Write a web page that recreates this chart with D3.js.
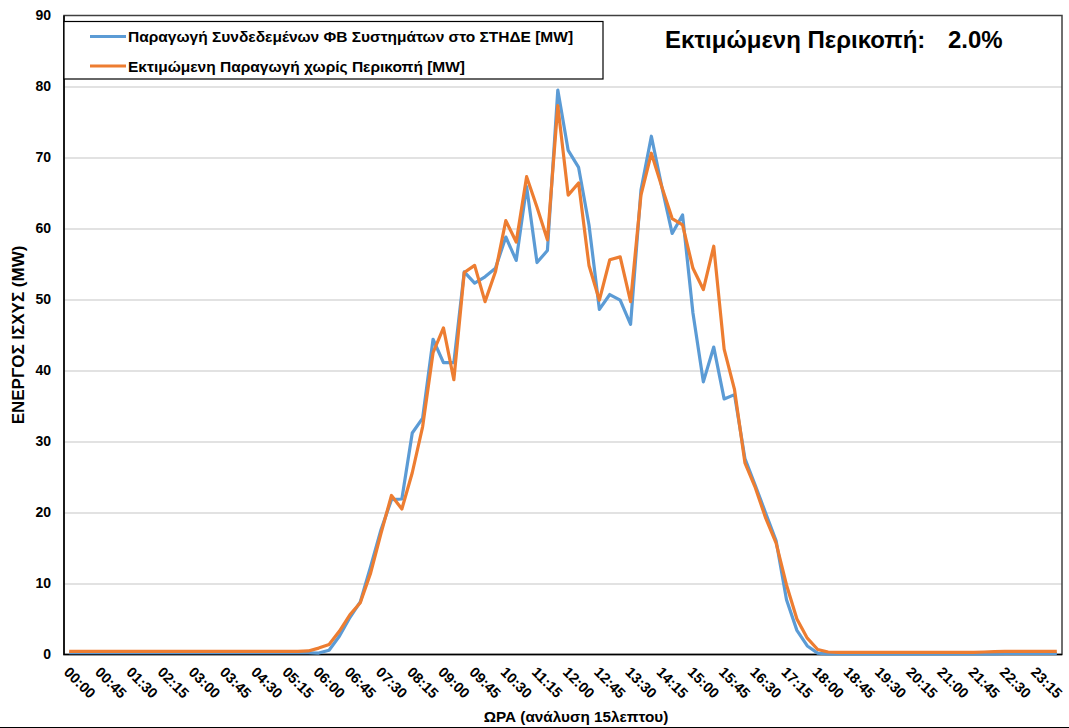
<!DOCTYPE html>
<html>
<head>
<meta charset="utf-8">
<script src="https://cdn.jsdelivr.net/npm/d3@7"></script>
<style>
body { margin: 0; background: #fff; }
svg { display: block; font-family: "Liberation Sans", Arial, sans-serif; }
.axis text { font-weight: bold; fill: #000; }
.axis .domain { display: none; }
.grid line { stroke: #d9d9d9; stroke-width: 1.3; }
.grid .domain { display: none; }
</style>
</head>
<body>
<script>
// x ticks shown every 45 minutes
var tickLabels = ["00:00", "00:45", "01:30", "02:15", "03:00", "03:45", "04:30", "05:15",
    "06:00", "06:45", "07:30", "08:15", "09:00", "09:45", "10:30", "11:15",
    "12:00", "12:45", "13:30", "14:15", "15:00", "15:45", "16:30", "17:15",
    "18:00", "18:45", "19:30", "20:15", "21:00", "21:45", "22:30", "23:15"];

var yTicks = [0, 10, 20, 30, 40, 50, 60, 70, 80, 90];

// ΦΒ production (MW), one value per 15 minutes
var measured = [
    0.25, 0.25, 0.25, 0.25, 0.25, 0.25, 0.25, 0.25, 0.25, 0.25, 0.25, 0.25,
    0.25, 0.25, 0.25, 0.25, 0.25, 0.25, 0.25, 0.25, 0.25, 0.25, 0.25, 0.25,
    0.2, 0.6, 2.6, 5.2, 7.4, 12.4, 17.6, 21.8, 21.9, 31.2, 33.3, 44.4,
    41.1, 41.1, 53.9, 52.3, 53.2, 54.4, 58.8, 55.5, 65.9, 55.2, 56.9, 79.5,
    71.0, 68.6, 60.5, 48.6, 50.7, 49.9, 46.5, 65.4, 73.0, 65.9, 59.3, 61.9,
    48.1, 38.4, 43.3, 36.0, 36.6, 27.6, 23.8, 19.9, 16.0, 7.7, 3.4, 1.2,
    0.2, 0.1, 0.1, 0.1, 0.1, 0.1, 0.1, 0.1, 0.1, 0.1, 0.1, 0.1,
    0.1, 0.1, 0.1, 0.1, 0.1, 0.1, 0.15, 0.15, 0.15, 0.15, 0.15, 0.15
];

var estimated = [
    0.45, 0.45, 0.45, 0.45, 0.45, 0.45, 0.45, 0.45, 0.45, 0.45, 0.45, 0.45,
    0.45, 0.45, 0.45, 0.45, 0.45, 0.45, 0.45, 0.45, 0.45, 0.45, 0.45, 0.5,
    0.9, 1.4, 3.3, 5.6, 7.3, 11.5, 17.1, 22.4, 20.5, 25.6, 32.1, 42.5,
    46.0, 38.7, 53.8, 54.8, 49.7, 53.9, 61.1, 58.1, 67.3, 63.0, 58.4, 77.3,
    64.7, 66.4, 54.8, 49.9, 55.6, 56.0, 49.7, 64.7, 70.6, 65.9, 61.4, 60.5,
    54.4, 51.4, 57.5, 43.0, 37.3, 27.0, 23.5, 19.2, 15.7, 9.8, 5.0, 2.3,
    0.7, 0.35, 0.3, 0.3, 0.3, 0.3, 0.3, 0.3, 0.3, 0.3, 0.3, 0.3,
    0.3, 0.3, 0.3, 0.3, 0.35, 0.4, 0.45, 0.45, 0.45, 0.45, 0.45, 0.45
];

var seriesNames = ["Παραγωγή Συνδεδεμένων ΦΒ Συστημάτων στο ΣΤΗΔΕ [MW]",
    "Εκτιμώμενη Παραγωγή χωρίς Περικοπή [MW]"];
var seriesColors = ["#5b9bd5", "#ed7d31"];
var curtailment = "2.0%";

var margin = {
        top: 15.5,
        bottom: 73.5,
        right: 7,
        left: 64
    },
    W = 1069, H = 728,
    width = W - margin.left - margin.right,
    height = H - margin.top - margin.bottom;

function pad(n) { return (n < 10 ? "0" : "") + n; }
var times = measured.map((d, i) => pad(Math.floor(i / 4)) + ":" + pad((i % 4) * 15));

var x = d3.scalePoint().domain(times).range([0, width]).padding(0.5);
var y = d3.scaleLinear().domain([0, 90]).range([height, 0]);

var svg0 = d3.select("body").append("svg")
    .attr("width", W)
    .attr("height", H);

var svg = svg0.append("g")
    .attr("transform", "translate(" + margin.left + "," + margin.top + ")");

// grid
svg.append("g")
    .attr("class", "grid")
    .call(d3.axisLeft(y).tickValues(yTicks.slice(1, -1)).tickSize(-width).tickFormat(""));

// y axis labels
svg.append("g")
    .attr("class", "axis")
    .call(d3.axisLeft(y).tickValues(yTicks).tickSize(0).tickPadding(13))
    .selectAll("text")
    .style("font-size", "14px");

// x axis labels, rotated
var xa = svg.append("g")
    .attr("class", "axis")
    .attr("transform", "translate(0," + height + ")")
    .call(d3.axisBottom(x).tickValues(tickLabels).tickSize(0));

xa.selectAll("text")
    .style("font-size", "14.5px")
    .attr("text-anchor", "start")
    .attr("y", 0)
    .attr("transform", "translate(-3,15) rotate(45)")
    .attr("dy", "0.35em");

// plot frame
svg.append("rect")
    .attr("width", width)
    .attr("height", height)
    .attr("fill", "none")
    .attr("stroke", "#404040")
    .attr("stroke-width", 1.5);

svg.append("path")
    .attr("d", "M0,0V" + height + "H" + width)
    .attr("fill", "none")
    .attr("stroke", "#000")
    .attr("stroke-width", 1.5);

var line = d3.line()
    .x((d, i) => x(times[i]))
    .y(d => y(d));

svg.selectAll(".line")
    .data([measured, estimated])
    .enter()
    .append("path")
    .attr("class", "line")
    .attr("fill", "none")
    .attr("stroke", (d, i) => seriesColors[i])
    .attr("stroke-width", 3.2)
    .attr("stroke-linejoin", "round")
    .attr("d", d => line(d));

// legend
var legend = svg.append("g");
legend.append("rect")
    .attr("x", 0)
    .attr("y", 6)
    .attr("width", 539)
    .attr("height", 57.5)
    .attr("fill", "#fff")
    .attr("stroke", "#000")
    .attr("stroke-width", 1.2);

var items = legend.selectAll(".item")
    .data(seriesNames)
    .enter()
    .append("g")
    .attr("transform", (d, i) => "translate(0," + (21 + i * 29.5) + ")");

items.append("line")
    .attr("x1", 26)
    .attr("x2", 62)
    .attr("stroke", (d, i) => seriesColors[i])
    .attr("stroke-width", 3.2);

items.append("text")
    .attr("x", 64)
    .attr("dy", "0.36em")
    .style("font-size", "15.5px")
    .style("font-weight", "bold")
    .text(d => d);

// estimated curtailment
svg.append("text")
    .attr("x", 601)
    .attr("y", 32.5)
    .style("font-size", "24px")
    .style("font-weight", "bold")
    .text("Εκτιμώμενη Περικοπή:");

svg.append("text")
    .attr("x", 884)
    .attr("y", 32.5)
    .style("font-size", "24px")
    .style("font-weight", "bold")
    .text(curtailment);

// axis titles
svg0.append("text")
    .attr("transform", "translate(24," + (margin.top + height / 2) + ") rotate(-90)")
    .attr("text-anchor", "middle")
    .style("font-size", "17px")
    .style("font-weight", "bold")
    .text("ΕΝΕΡΓΟΣ ΙΣΧΥΣ (MW)");

svg0.append("text")
    .attr("x", 576)
    .attr("y", 722)
    .attr("text-anchor", "middle")
    .style("font-size", "15.3px")
    .style("font-weight", "bold")
    .text("ΩΡΑ (ανάλυση 15λεπτου)");

svg0.append("line")
    .attr("x1", 0)
    .attr("x2", W)
    .attr("y1", H - 0.5)
    .attr("y2", H - 0.5)
    .attr("stroke", "#000");
</script>
</body>
</html>
